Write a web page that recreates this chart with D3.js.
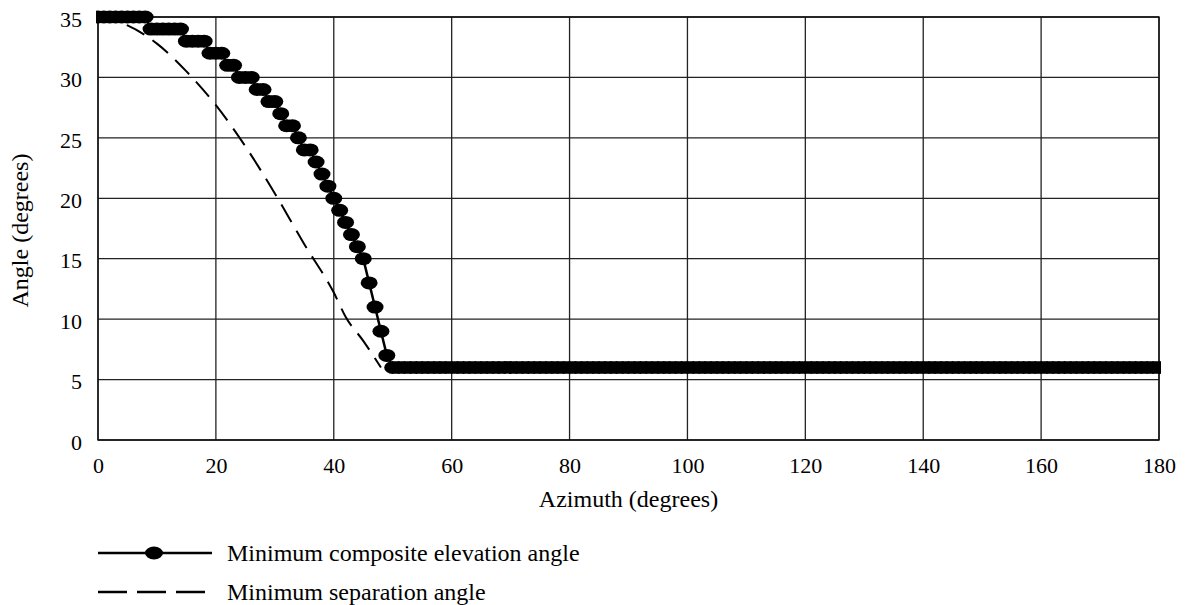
<!DOCTYPE html>
<html>
<head>
<meta charset="utf-8">
<script src="https://cdn.jsdelivr.net/npm/d3@7"></script>
<style>
  body { margin: 0; background: #fff; }
  text { font-family: "Liberation Serif", "Times New Roman", serif; fill: #000; }
</style>
</head>
<body>
<div id="chart"></div>
<script>
// Minimum composite elevation angle, one point per degree of azimuth
const compositeAz = d3.range(0, 181);
const compositeVals = [
  35, 35, 35, 35, 35, 35, 35, 35, 35,      // 0-8
  34, 34, 34, 34, 34, 34,                  // 9-14
  33, 33, 33, 33,                          // 15-18
  32, 32, 32,                              // 19-21
  31, 31,                                  // 22-23
  30, 30, 30,                              // 24-26
  29, 29,                                  // 27-28
  28, 28,                                  // 29-30
  27,                                      // 31
  26, 26,                                  // 32-33
  25,                                      // 34
  24, 24,                                  // 35-36
  23, 22, 21, 20, 19, 18, 17, 16, 15,      // 37-45
  13, 11, 9, 7                             // 46-49
].concat(new Array(131).fill(6));          // 50-180

// Minimum separation angle
const separationAz   = [0, 5, 10, 15, 20, 25, 30, 35, 40, 42, 45, 48];
const separationVals = [35, 34.3, 32.8, 30.5, 27.7, 24.3, 20.4, 16.2, 12.2, 10.2, 8.2, 6];

const xTicks = [0, 20, 40, 60, 80, 100, 120, 140, 160, 180];
const yTicks = [0, 5, 10, 15, 20, 25, 30, 35];

const seriesNames = ["Minimum composite elevation angle", "Minimum separation angle"];

const W = 1185, H = 605;
const margin = { top: 17, right: 26, bottom: 165, left: 98 };
const width = W - margin.left - margin.right;
const height = H - margin.top - margin.bottom;

const svg = d3.select("#chart").append("svg")
  .attr("width", W).attr("height", H);

const g = svg.append("g")
  .attr("transform", `translate(${margin.left},${margin.top})`);

const x = d3.scaleLinear().domain([0, 180]).range([0, width]);
const y = d3.scaleLinear().domain([0, 35]).range([height, 0]);

// Grid
g.append("g")
  .selectAll("line")
  .data(xTicks)
  .join("line")
  .attr("x1", d => x(d)).attr("x2", d => x(d))
  .attr("y1", 0).attr("y2", height)
  .attr("stroke", "#222").attr("stroke-width", 1.3);

g.append("g")
  .selectAll("line")
  .data(yTicks)
  .join("line")
  .attr("x1", 0).attr("x2", width)
  .attr("y1", d => y(d)).attr("y2", d => y(d))
  .attr("stroke", "#222").attr("stroke-width", 1.3);

g.append("rect")
  .attr("width", width).attr("height", height)
  .attr("fill", "none").attr("stroke", "#111").attr("stroke-width", 1.4);

// Axes labels (no tick marks)
const xAxis = g.append("g")
  .attr("transform", `translate(0,${height})`)
  .call(d3.axisBottom(x).tickValues(xTicks).tickSize(0).tickPadding(17));
xAxis.select(".domain").remove();
xAxis.selectAll("text").attr("font-size", "22px")
  .attr("font-family", "Liberation Serif");

const yAxis = g.append("g")
  .call(d3.axisLeft(y).tickValues(yTicks).tickSize(0).tickPadding(16));
yAxis.select(".domain").remove();
yAxis.selectAll("text").attr("font-size", "22px")
  .attr("font-family", "Liberation Serif").attr("dy", "0.42em");

svg.append("text")
  .attr("x", margin.left + width / 2).attr("y", 507)
  .attr("text-anchor", "middle").attr("font-size", "24px")
  .text("Azimuth (degrees)");

svg.append("text")
  .attr("transform", `translate(28,${margin.top + height / 2 + 2}) rotate(-90)`)
  .attr("text-anchor", "middle").attr("font-size", "24px")
  .text("Angle (degrees)");

// Clip for markers (horizontal edges only)
svg.append("clipPath").attr("id", "plot-clip")
  .append("rect")
  .attr("x", -2).attr("y", -20)
  .attr("width", width + 4).attr("height", height + 40);

// Separation angle (dashed)
const sepData = separationAz.map((a, i) => ({ az: a, v: separationVals[i] }));
g.append("path")
  .datum(sepData)
  .attr("fill", "none")
  .attr("stroke", "#000")
  .attr("stroke-width", 2)
  .attr("stroke-dasharray", "20,10")
  .attr("d", d3.line().x(d => x(d.az)).y(d => y(d.v)).curve(d3.curveMonotoneX));

// Composite elevation angle
const compData = compositeAz.map((a, i) => ({ az: a, v: compositeVals[i] }));
const comp = g.append("g").attr("clip-path", "url(#plot-clip)");
comp.append("path")
  .datum(compData)
  .attr("fill", "none")
  .attr("stroke", "#000")
  .attr("stroke-width", 2.5)
  .attr("d", d3.line().x(d => x(d.az)).y(d => y(d.v)));
comp.selectAll("ellipse")
  .data(compData)
  .join("ellipse")
  .attr("cx", d => x(d.az)).attr("cy", d => y(d.v))
  .attr("rx", 8.5).attr("ry", 6.5)
  .attr("fill", "#000");

// Legend
const legend = svg.append("g").attr("transform", "translate(98,553)");
legend.append("line")
  .attr("x1", 0).attr("x2", 114).attr("y1", 0).attr("y2", 0)
  .attr("stroke", "#000").attr("stroke-width", 2.5);
legend.append("ellipse")
  .attr("cx", 56).attr("cy", 0).attr("rx", 9).attr("ry", 6.5).attr("fill", "#000");
legend.append("text")
  .attr("x", 129).attr("y", 8).attr("font-size", "24px").text(seriesNames[0]);

legend.append("line")
  .attr("x1", 0).attr("x2", 107).attr("y1", 39).attr("y2", 39)
  .attr("stroke", "#000").attr("stroke-width", 2.5)
  .attr("stroke-dasharray", "29,10");
legend.append("text")
  .attr("x", 129).attr("y", 47).attr("font-size", "24px").text(seriesNames[1]);
</script>
</body>
</html>
